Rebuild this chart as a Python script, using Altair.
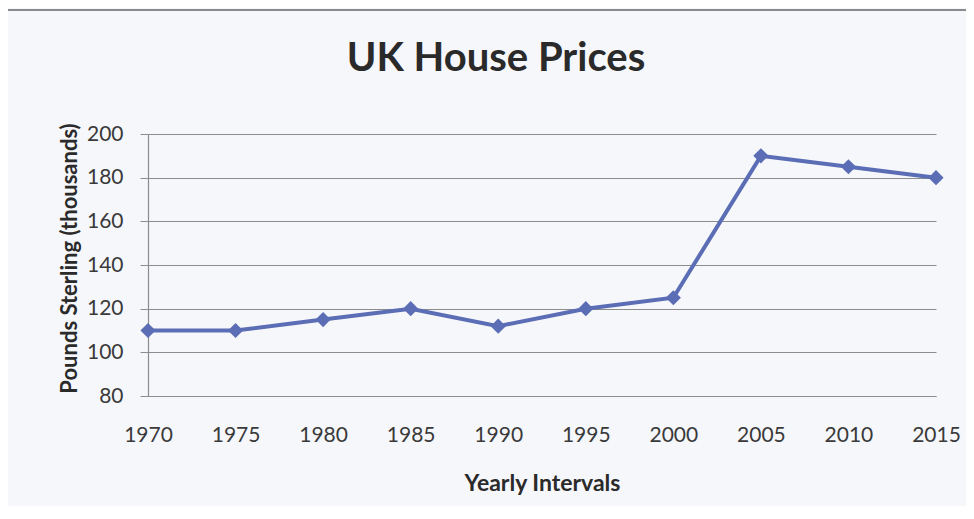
import altair as alt
import pandas as pd

years = [1970, 1975, 1980, 1985, 1990, 1995, 2000, 2005, 2010, 2015]
prices = [110, 110, 115, 120, 112, 120, 125, 190, 185, 180]
y_ticks = [80, 100, 120, 140, 160, 180, 200]

df = pd.DataFrame({"Year": years, "Price": prices})

FONT = "Lato"
LINE = "#5a6db5"

x_enc = alt.X(
    "Year:Q",
    scale=alt.Scale(domain=[1970, 2015], nice=False, zero=False),
    axis=alt.Axis(
        values=years, format="d", title="Yearly Intervals", grid=False,
        ticks=False, domain=True, domainColor="#8c8c8c", domainWidth=1.2,
        labelFlush=False, labelOverlap=False,
        labelFont=FONT, labelFontSize=21, labelColor="#3a3a3a", labelPadding=28,
        titleFont=FONT, titleFontSize=23, titleFontWeight="bold", titleColor="#2a2a2a",
        titleY=87, titleBaseline="middle",
    ),
)
y_enc = alt.Y(
    "Price:Q",
    scale=alt.Scale(domain=[80, 200], nice=False, zero=False),
    axis=alt.Axis(
        values=y_ticks, title="Pounds Sterling (thousands)", grid=True,
        gridColor="#8c8c8c", gridWidth=1.2, ticks=True, tickSize=8,
        tickColor="#8c8c8c", domain=True, domainColor="#8c8c8c", domainWidth=1.2,
        labelFont=FONT, labelFontSize=21, labelColor="#3a3a3a", labelPadding=17,
        titleFont=FONT, titleFontSize=22, titleFontWeight="bold", titleColor="#2a2a2a",
        titleX=-79, titleY=124, titleAlign="center", titleBaseline="middle", titleAngle=-90,
    ),
)

frame = alt.Chart(pd.DataFrame({"a": [0]})).mark_rect(
    filled=False, stroke="#8a8a8a", strokeWidth=2
).encode(
    x=alt.value(-141), x2=alt.value(860), y=alt.value(-124), y2=alt.value(420)
)

line = alt.Chart(df).mark_line(color=LINE, strokeWidth=4).encode(x=x_enc, y=y_enc)
pts = alt.Chart(df).mark_point(
    shape="diamond", filled=True, size=230, color=LINE, opacity=1
).encode(x="Year:Q", y="Price:Q")

chart = alt.layer(frame, line, pts).properties(
    width=788, height=262,
    autosize=alt.AutoSizeParams(type="none"),
    padding={"left": 140, "top": 126, "right": 30, "bottom": 110},
    background="#f6f7fa",
    title=alt.TitleParams(
        "UK House Prices", font=FONT, fontSize=40, fontWeight="bold",
        color="#2a2a2a", anchor="middle", dx=-46, offset=-70,
    ),
).configure_view(stroke=None)

chart.save("out.html", embed_options={"renderer": "svg", "actions": False})
